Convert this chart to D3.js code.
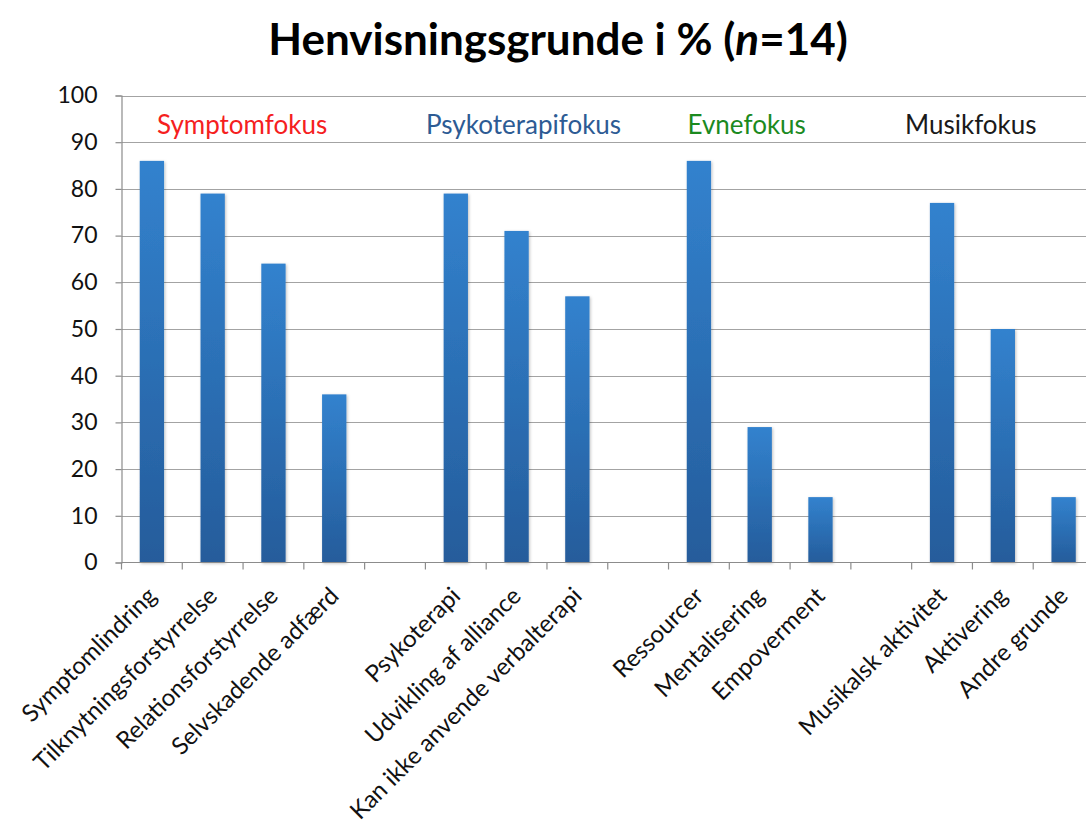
<!DOCTYPE html>
<html>
<head>
<meta charset="utf-8">
<script src="https://cdn.jsdelivr.net/npm/d3@7"></script>
<style>
  body { margin: 0; background: #fff; }
  svg { display: block; font-family: Lato, "Open Sans", sans-serif; }
</style>
</head>
<body>
<script>
// categories (empty strings are the gaps between groups)
const categories = [
  "Symptomlindring", "Tilknytningsforstyrrelse", "Relationsforstyrrelse", "Selvskadende adfærd", "",
  "Psykoterapi", "Udvikling af alliance", "Kan ikke anvende verbalterapi", " ",
  "Ressourcer", "Mentalisering", "Empoverment", "  ",
  "Musikalsk aktivitet", "Aktivering", "Andre grunde"
]
const values = [86, 79, 64, 36, null, 79, 71, 57, null, 86, 29, 14, null, 77, 50, 14]
const yTicks = [0, 10, 20, 30, 40, 50, 60, 70, 80, 90, 100]

// group headings and the categories they sit over
const groupNames = ["Symptomfokus", "Psykoterapifokus", "Evnefokus", "Musikfokus"]
const groupFirst = ["Symptomlindring", "Psykoterapi", "Ressourcer", "Musikalsk aktivitet"]
const groupLast = ["Selvskadende adfærd", "Kan ikke anvende verbalterapi", "Empoverment", "Andre grunde"]
const groupColors = ["#f5201e", "#2d5b94", "#1b8a1f", "#1a1a1a"]

const width = 1086, height = 825
const plotLeft = 121.5, plotRight = 1094, plotTop = 95.5, plotBottom = 562.5

const svg = d3.select("body").append("svg")
  .attr("width", width)
  .attr("height", height)

// gradient for the bars
const defs = svg.append("defs")
const grad = defs.append("linearGradient")
  .attr("id", "barGrad")
  .attr("x1", 0).attr("y1", 0).attr("x2", 0).attr("y2", 1)
grad.append("stop").attr("offset", "0%").attr("stop-color", "#3282ce")
grad.append("stop").attr("offset", "100%").attr("stop-color", "#255c9b")

const shadow = defs.append("filter").attr("id", "shadow")
  .attr("x", "-30%").attr("y", "-10%").attr("width", "160%").attr("height", "120%")
shadow.append("feDropShadow")
  .attr("dx", 1).attr("dy", 1).attr("stdDeviation", 1.5)
  .attr("flood-color", "#000").attr("flood-opacity", 0.25)

// scales
const x = d3.scaleBand()
  .domain(categories)
  .range([plotLeft, plotRight])
  .paddingInner(0.6)
  .paddingOuter(0.3)
const step = x.step()
const y = d3.scaleLinear().domain([0, 100]).range([plotBottom, plotTop])

// title
svg.append("text")
  .attr("x", 558)
  .attr("y", 55)
  .attr("text-anchor", "middle")
  .style("font-size", "44px")
  .style("font-weight", "bold")
  .style("fill", "#000")
  .html('Henvisningsgrunde i % (<tspan font-style="italic">n</tspan>=14)')

// gridlines
svg.append("g")
  .selectAll("line")
  .data(yTicks.filter(d => d > 0))
  .join("line")
  .attr("x1", plotLeft)
  .attr("x2", plotRight)
  .attr("y1", d => Math.round(y(d)) + 0.5)
  .attr("y2", d => Math.round(y(d)) + 0.5)
  .attr("stroke", "#a3a3a3")
  .attr("stroke-width", 1.2)

// y axis
const yAxis = svg.append("g")
  .attr("transform", `translate(${plotLeft},0)`)
  .call(d3.axisLeft(y).tickValues(yTicks).tickSize(6).tickPadding(18))
yAxis.select(".domain").attr("stroke", "#8c8c8c").attr("stroke-width", 1.2)
yAxis.selectAll(".tick line").attr("stroke", "#8c8c8c").attr("stroke-width", 1.2)
yAxis.selectAll(".tick text")
  .style("font-size", "23px")
  .style("font-family", "Lato, sans-serif")
  .attr("fill", "#111")

// bars
svg.append("g")
  .selectAll("rect")
  .data(categories.map((c, i) => ({ c, v: values[i] })).filter(d => d.v !== null))
  .join("rect")
  .attr("x", d => x(d.c))
  .attr("width", x.bandwidth())
  .attr("y", d => y(d.v))
  .attr("height", d => y(0) - y(d.v))
  .attr("fill", "url(#barGrad)")
  .attr("filter", "url(#shadow)")

// x axis line and tick marks between slots
const xAxisG = svg.append("g")
xAxisG.append("line")
  .attr("x1", plotLeft).attr("x2", plotRight)
  .attr("y1", plotBottom).attr("y2", plotBottom)
  .attr("stroke", "#8c8c8c").attr("stroke-width", 1.2)
xAxisG.selectAll("line.tk")
  .data(categories)
  .join("line")
  .attr("class", "tk")
  .attr("x1", d => x(d) - step * 0.3)
  .attr("x2", d => x(d) - step * 0.3)
  .attr("y1", plotBottom)
  .attr("y2", plotBottom + 7)
  .attr("stroke", "#8c8c8c").attr("stroke-width", 1.2)

// category labels, rotated
xAxisG.selectAll("text")
  .data(categories.filter(d => d.trim() !== ""))
  .join("text")
  .attr("transform", d => `translate(${x(d) + x.bandwidth() / 2},${plotBottom + 29}) rotate(-45)`)
  .attr("text-anchor", "end")
  .attr("dy", "0.35em")
  .style("font-size", "24px")
  .style("fill", "#111")
  .text(d => d)

// group headings
const groupNudge = [-1, 7, -13, -32]
svg.append("g")
  .selectAll("text")
  .data(groupNames)
  .join("text")
  .attr("x", (d, i) => (x(groupFirst[i]) + x(groupLast[i]) + x.bandwidth()) / 2 + groupNudge[i])
  .attr("y", 134)
  .attr("text-anchor", "middle")
  .style("font-size", "26px")
  .style("fill", (d, i) => groupColors[i])
  .text(d => d)
</script>
</body>
</html>
